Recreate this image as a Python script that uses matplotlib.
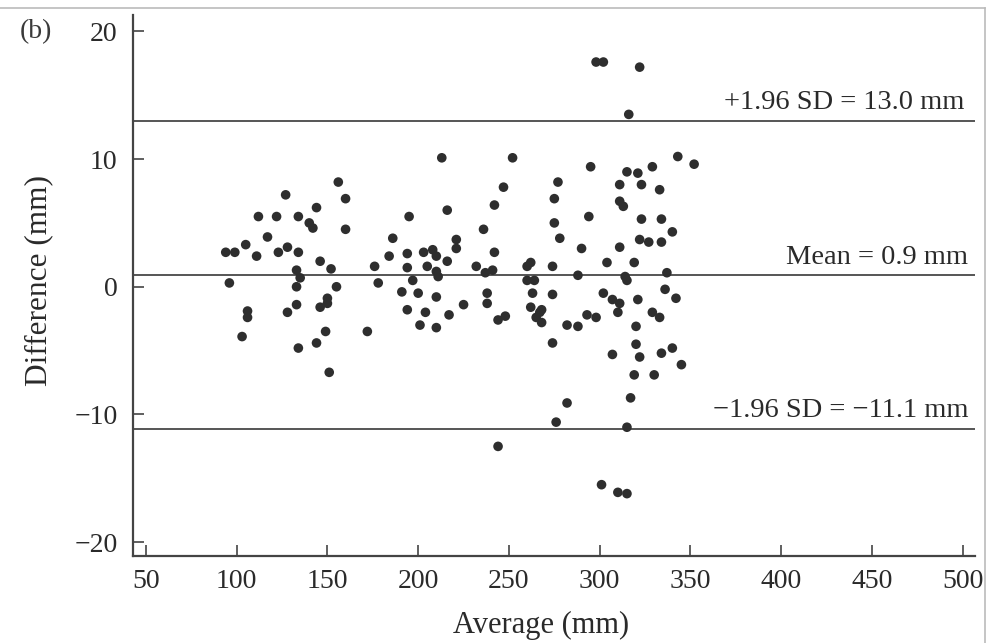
import matplotlib
matplotlib.use("Agg")
import matplotlib.pyplot as plt
from matplotlib.lines import Line2D

# Bland-Altman data: average of the two methods vs. their difference (mm)
average = [
    94, 99, 96, 105, 106, 106, 103, 111, 112, 122, 117, 127, 123, 128, 134,
    134, 140, 142, 144, 156, 160, 160, 146, 152, 133, 135, 133, 155, 150, 146,
    150, 133, 128, 149, 144, 134, 151, 172, 176, 178,
    213, 252, 247, 242, 216, 195, 236, 186, 221, 221, 242, 184, 194, 203, 208,
    210, 216, 194, 205, 210, 211, 232, 237, 241, 197, 191, 200, 210, 238, 238,
    225, 194, 204, 217, 201, 210, 244, 248, 260, 260,
    277, 275, 275, 278, 290, 294, 295, 262, 274, 288, 264, 263, 274, 262, 268,
    265, 268, 267, 274, 282, 288, 293, 282, 276, 244,
    298, 302, 322, 316, 343, 352, 315, 321, 329, 323, 311, 333, 311, 313, 323,
    334, 340, 322, 327, 334, 311, 304, 319, 314, 315, 337, 336, 342, 302, 307,
    311, 310, 321, 329, 333, 298, 320, 320, 307, 322, 334, 340, 345, 319, 330,
    317, 315, 301, 310, 315,
]
difference = [
    2.7, 2.7, 0.3, 3.3, -1.9, -2.4, -3.9, 2.4, 5.5, 5.5, 3.9, 7.2, 2.7, 3.1, 2.7,
    5.5, 5.0, 4.6, 6.2, 8.2, 6.9, 4.5, 2.0, 1.4, 1.3, 0.7, 0.0, 0.0, -0.9, -1.6,
    -1.3, -1.4, -2.0, -3.5, -4.4, -4.8, -6.7, -3.5, 1.6, 0.3,
    10.1, 10.1, 7.8, 6.4, 6.0, 5.5, 4.5, 3.8, 3.7, 3.0, 2.7, 2.4, 2.6, 2.7, 2.9,
    2.4, 2.0, 1.5, 1.6, 1.2, 0.8, 1.6, 1.1, 1.3, 0.5, -0.4, -0.5, -0.8, -0.5, -1.3,
    -1.4, -1.8, -2.0, -2.2, -3.0, -3.2, -2.6, -2.3, 1.6, 0.5,
    8.2, 6.9, 5.0, 3.8, 3.0, 5.5, 9.4, 1.9, 1.6, 0.9, 0.5, -0.5, -0.6, -1.6, -1.8,
    -2.4, -2.8, -2.0, -4.4, -3.0, -3.1, -2.2, -9.1, -10.6, -12.5,
    17.6, 17.6, 17.2, 13.5, 10.2, 9.6, 9.0, 8.9, 9.4, 8.0, 8.0, 7.6, 6.7, 6.3, 5.3,
    5.3, 4.3, 3.7, 3.5, 3.5, 3.1, 1.9, 1.9, 0.8, 0.5, 1.1, -0.2, -0.9, -0.5, -1.0,
    -1.3, -2.0, -1.0, -2.0, -2.4, -2.4, -3.1, -4.5, -5.3, -5.5, -5.2, -4.8, -6.1, -6.9, -6.9,
    -8.7, -11.0, -15.5, -16.1, -16.2,
]

mean_diff = 0.9
upper_loa = 13.0
lower_loa = -11.1

x_ticks = [50, 100, 150, 200, 250, 300, 350, 400, 450, 500]
y_ticks = [-20, -10, 0, 10, 20]

plt.rcParams["font.family"] = ["Liberation Serif", "DejaVu Serif"]

fig = plt.figure(figsize=(9.91, 6.43), dpi=100)
ax = fig.add_axes([0.134, 0.135, 0.85, 0.842])

ax.scatter(average, difference, s=48, color="#2e2e2e", edgecolors="none", zorder=3)

for level in (upper_loa, mean_diff, lower_loa):
    ax.axhline(level, color="#555555", lw=1.4, zorder=2)

label_kw = dict(ha="right", va="bottom", fontsize=20.5, color="#2a2a2a")
ax.text(501, upper_loa + 0.45, "+1.96 SD = 13.0 mm", **label_kw)
ax.text(503, mean_diff + 0.45, "Mean = 0.9 mm", **label_kw)
ax.text(503, lower_loa + 0.45, "\u22121.96 SD = \u221211.1 mm", **label_kw)

ax.set_xlim(42.8, 506.8)
ax.set_ylim(-21.1, 21.3)
ax.set_xticks(x_ticks)
ax.set_yticks(y_ticks)
ax.set_yticklabels([f"{t}".replace("-", "\u2212") for t in y_ticks])

for side in ("top", "right"):
    ax.spines[side].set_visible(False)
for side in ("left", "bottom"):
    ax.spines[side].set_linewidth(1.6)
    ax.spines[side].set_color("#444444")

ax.tick_params(direction="in", length=8, width=1.2, color="#444444",
               labelsize=20, labelcolor="#2a2a2a")
ax.tick_params(axis="x", pad=9)
ax.tick_params(axis="y", pad=11)

ax.set_xlabel("Average (mm)", fontsize=22, color="#2a2a2a")
ax.set_ylabel("Difference (mm)", fontsize=22.5, color="#2a2a2a")
ax.xaxis.set_label_coords(0.485, -0.102)
ax.yaxis.set_label_coords(-0.094, 0.51)

fig.text(0.02, 0.951, "(b)", fontsize=20, color="#3a3a3a", ha="left", va="center")

# thin page frame along the top and right edges
fig.add_artist(Line2D([0, 0.994], [0.988, 0.988], transform=fig.transFigure,
                      color="#bbbbbb", lw=1.2))
fig.add_artist(Line2D([0.994, 0.994], [0, 0.988], transform=fig.transFigure,
                      color="#bbbbbb", lw=1.2))

fig.savefig("out.png", dpi=100)
